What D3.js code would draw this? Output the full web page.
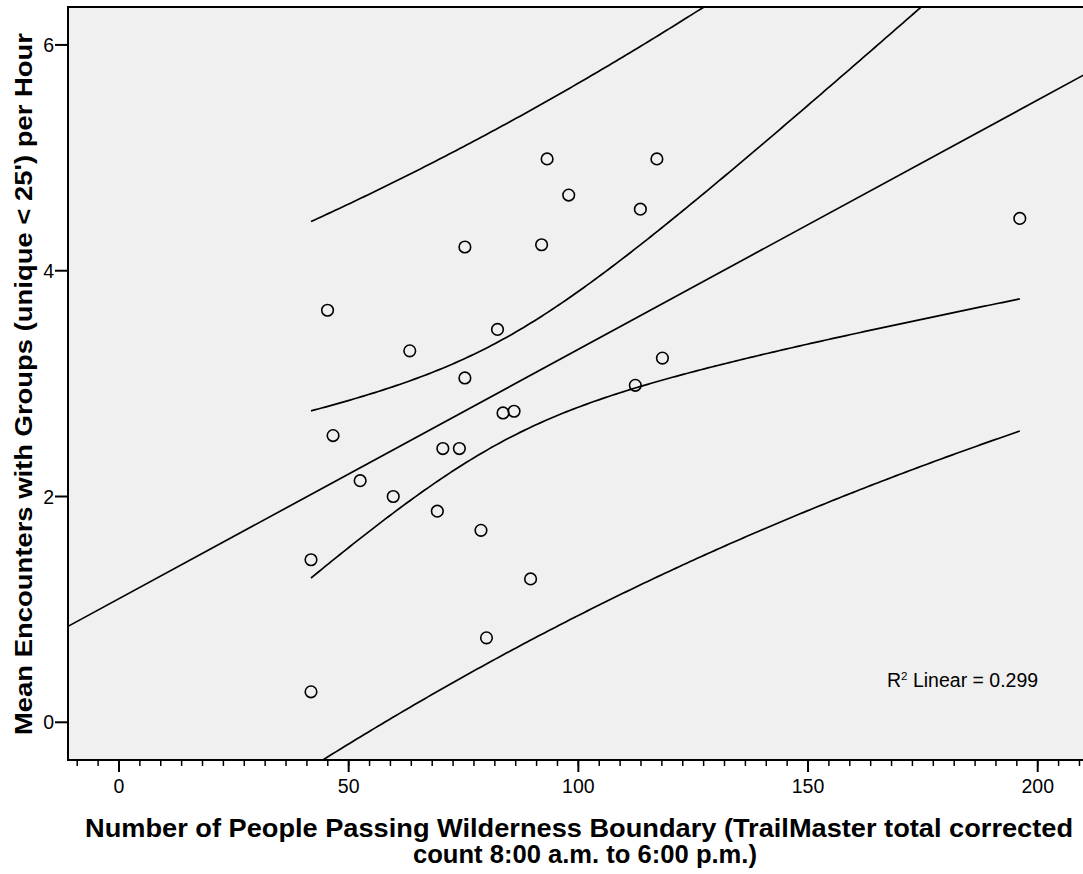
<!DOCTYPE html>
<html>
<head>
<meta charset="utf-8">
<script src="https://cdn.jsdelivr.net/npm/d3@7"></script>
<style>
  html, body { margin: 0; padding: 0; background: #ffffff; }
  svg { display: block; }
  text { font-family: "Liberation Sans", Arial, sans-serif; fill: #000; }
</style>
</head>
<body>
<svg id="chart" width="1083" height="874"></svg>
<script>
// ---- data ----
const peopleCount = [41.8, 41.8, 45.4, 46.6, 52.5, 59.7, 63.3, 69.3, 70.5, 74.1, 75.3, 75.3, 78.8,
                     80.0, 82.4, 83.6, 86.0, 89.6, 92.0, 93.2, 97.9, 112.4, 113.5, 117.1, 118.3, 196.1];
const meanEncounters = [1.44, 0.27, 3.65, 2.54, 2.14, 2.00, 3.29, 1.87, 2.425, 2.425, 3.05, 4.21, 1.70,
                        0.748, 3.48, 2.74, 2.755, 1.27, 4.23, 4.99, 4.67, 2.985, 4.545, 4.99, 3.226, 4.463];
const xTickValues = [0, 50, 100, 150, 200];
const yTickValues = [0, 2, 4, 6];
const r2Label = "0.299";
const tCrit = 2.0639; // t(0.975, df = 24)
const xTitleLine1 = "Number of People Passing Wilderness Boundary (TrailMaster total corrected";
const xTitleLine2 = "count 8:00 a.m. to 6:00 p.m.)";
const yTitle = "Mean Encounters with Groups (unique < 25') per Hour";

// ---- layout ----
const svg = d3.select("#chart");
const plot = { left: 68, top: 7, right: 1091, bottom: 760 };
const x = d3.scaleLinear().domain([-11.1, 211.6]).range([plot.left, plot.right]);
const y = d3.scaleLinear().domain([-0.334, 6.336]).range([plot.bottom, plot.top]);

svg.append("defs").append("clipPath").attr("id", "clip")
  .append("rect").attr("x", plot.left).attr("y", plot.top)
  .attr("width", plot.right - plot.left).attr("height", plot.bottom - plot.top);

svg.append("rect")
  .attr("x", plot.left).attr("y", plot.top)
  .attr("width", plot.right - plot.left).attr("height", plot.bottom - plot.top)
  .attr("fill", "#f0f0f0").attr("stroke", "#000").attr("stroke-width", 2);

// ---- regression ----
const n = peopleCount.length;
const mx = d3.mean(peopleCount), my = d3.mean(meanEncounters);
let sxx = 0, sxy = 0, syy = 0;
for (let i = 0; i < n; i++) {
  const dx = peopleCount[i] - mx, dy = meanEncounters[i] - my;
  sxx += dx * dx; sxy += dx * dy; syy += dy * dy;
}
const slope = sxy / sxx, intercept = my - slope * mx;
const sse = syy - sxy * sxy / sxx;
const s = Math.sqrt(sse / (n - 2));
const fit = v => intercept + slope * v;
const seMean = v => s * Math.sqrt(1 / n + (v - mx) * (v - mx) / sxx);
const sePred = v => s * Math.sqrt(1 + 1 / n + (v - mx) * (v - mx) / sxx);

const xmin = d3.min(peopleCount), xmax = d3.max(peopleCount);
const samples = d3.range(0, 201).map(i => xmin + (xmax - xmin) * i / 200);

const g = svg.append("g").attr("clip-path", "url(#clip)");
const line = d3.line().x(d => x(d[0])).y(d => y(d[1]));
const curveStyle = p => p.attr("fill", "none").attr("stroke", "#000").attr("stroke-width", 1.7);

// fit line across whole plot
g.append("path").datum(x.domain().map(v => [v, fit(v)])).attr("d", line).call(curveStyle);
// confidence bands
[v => fit(v) + tCrit * seMean(v), v => fit(v) - tCrit * seMean(v),
 v => fit(v) + tCrit * sePred(v), v => fit(v) - tCrit * sePred(v)].forEach(fn => {
  g.append("path").datum(samples.map(v => [v, fn(v)])).attr("d", line).call(curveStyle);
});

// points
g.selectAll("circle.pt").data(d3.zip(peopleCount, meanEncounters)).join("circle")
  .attr("class", "pt")
  .attr("cx", d => x(d[0])).attr("cy", d => y(d[1])).attr("r", 5.8)
  .attr("fill", "none").attr("stroke", "#000").attr("stroke-width", 1.6);

// R² label
const r2 = svg.append("text").attr("x", 887).attr("y", 687).attr("font-size", 19.5);
r2.append("tspan").text("R");
r2.append("tspan").attr("font-size", 11.5).attr("dy", -7).text("2");
r2.append("tspan").attr("dy", 7).text(" Linear = " + r2Label);

// ---- x axis ----
const minorStep = 50 / 11;
const minorTicks = d3.range(-2, 47).map(i => i * minorStep).filter(v => v >= x.domain()[0] && v <= 210);
svg.append("g").selectAll("line").data(minorTicks).join("line")
  .attr("x1", d => x(d)).attr("x2", d => x(d))
  .attr("y1", plot.bottom).attr("y2", plot.bottom + 6)
  .attr("stroke", "#000").attr("stroke-width", 1.5);
svg.append("g").selectAll("line").data(xTickValues).join("line")
  .attr("x1", d => x(d)).attr("x2", d => x(d))
  .attr("y1", plot.bottom).attr("y2", plot.bottom + 12)
  .attr("stroke", "#000").attr("stroke-width", 2);
svg.append("g").selectAll("text").data(xTickValues).join("text")
  .attr("x", d => x(d)).attr("y", 793).attr("text-anchor", "middle")
  .attr("font-size", 19.5).text(d => d);

// ---- y axis ----
svg.append("g").selectAll("line").data(yTickValues).join("line")
  .attr("x1", plot.left - 13).attr("x2", plot.left)
  .attr("y1", d => y(d)).attr("y2", d => y(d))
  .attr("stroke", "#000").attr("stroke-width", 2);
svg.append("g").selectAll("text").data(yTickValues).join("text")
  .attr("x", 54).attr("y", d => y(d) + 7).attr("text-anchor", "end")
  .attr("font-size", 19.5).text(d => d);

// ---- titles ----
svg.append("text").attr("x", 579).attr("y", 837).attr("text-anchor", "middle")
  .attr("font-size", 25).attr("font-weight", "bold")
  .attr("textLength", 988).attr("lengthAdjust", "spacingAndGlyphs").text(xTitleLine1);
svg.append("text").attr("x", 585).attr("y", 863).attr("text-anchor", "middle")
  .attr("font-size", 25).attr("font-weight", "bold")
  .attr("textLength", 344).attr("lengthAdjust", "spacingAndGlyphs").text(xTitleLine2);
svg.append("text").attr("transform", "translate(32,384) rotate(-90)").attr("text-anchor", "middle")
  .attr("font-size", 24).attr("font-weight", "bold")
  .attr("textLength", 702).attr("lengthAdjust", "spacingAndGlyphs").text(yTitle);
</script>
</body>
</html>
